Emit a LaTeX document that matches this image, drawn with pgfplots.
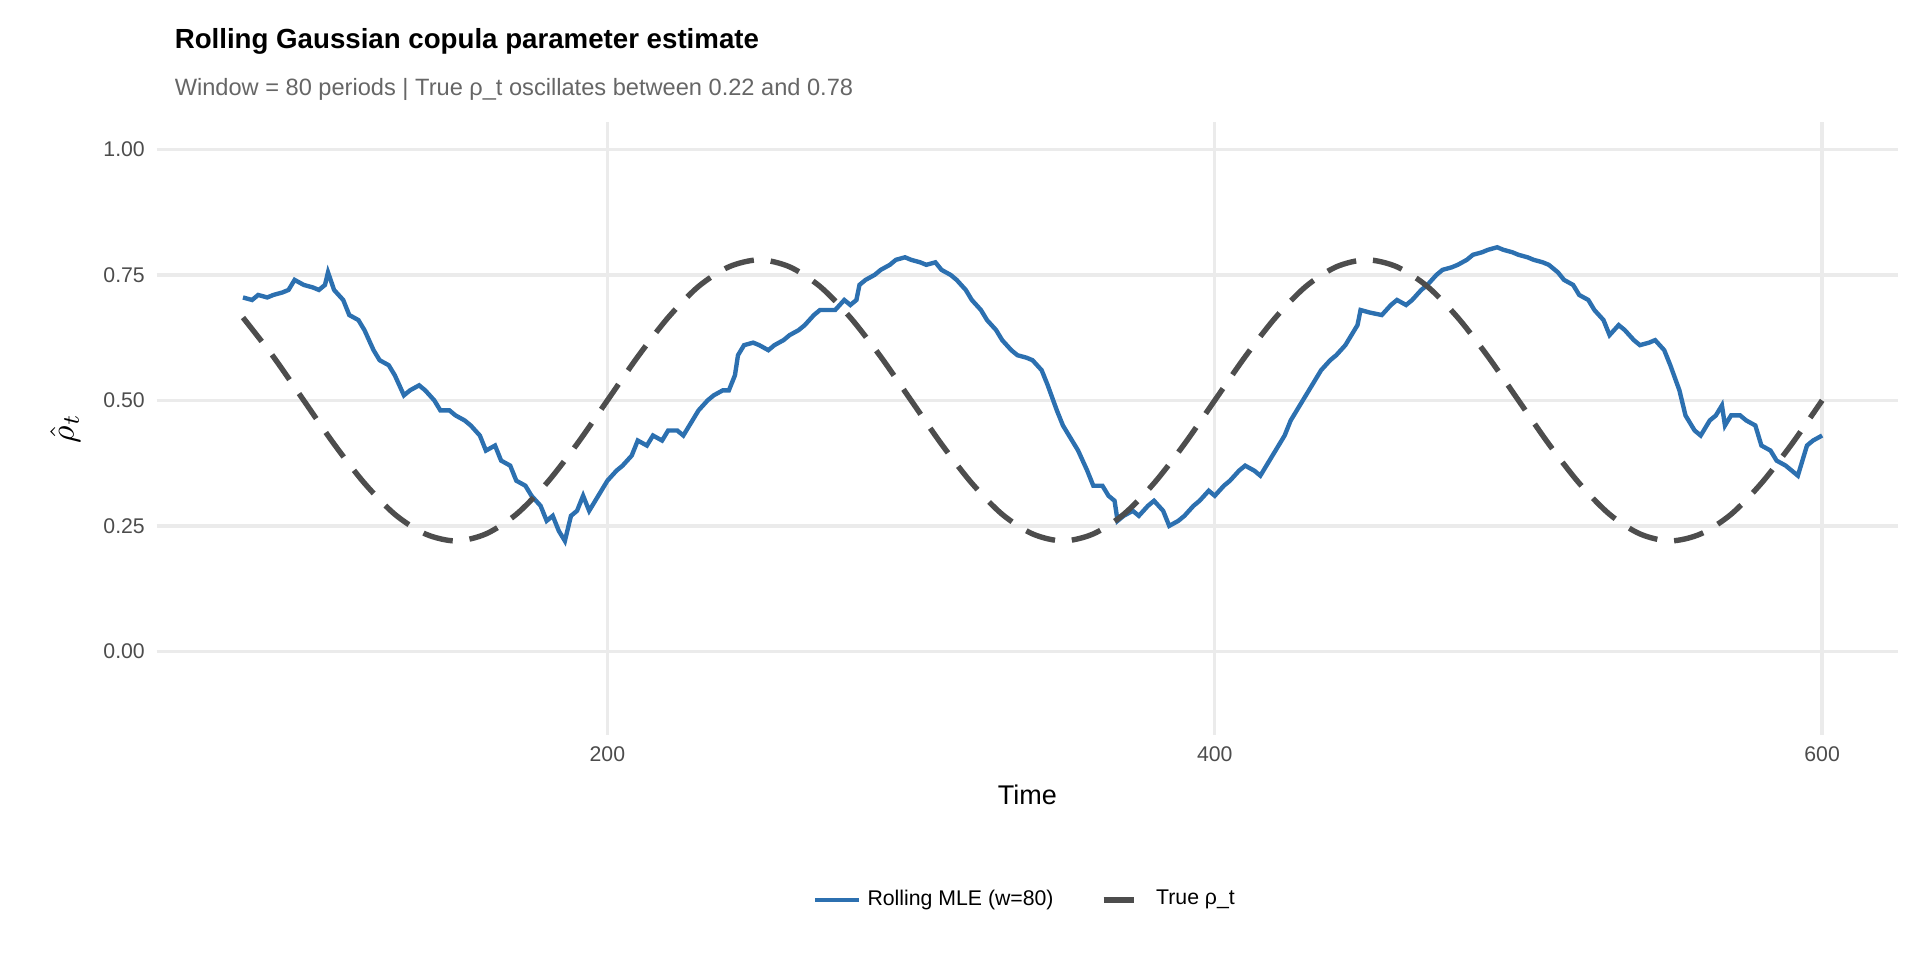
\documentclass[border=0pt]{standalone}
\usepackage{pgfplots}
\pgfplotsset{compat=1.18}
\usepackage{fontspec}
\setmainfont{Liberation Sans}
\definecolor{blu}{RGB}{44,112,176}
\definecolor{dg}{RGB}{77,77,77}
\definecolor{gridc}{RGB}{235,235,235}
\begin{document}
\begin{tikzpicture}[x=0.01276cm,y=0.01276cm]
\begin{axis}[at={(0,0)},anchor=south west,scale only axis,
 width=18.14cm,height=6.38cm,
 xmin=51.6,xmax=625,ymin=-0.166,ymax=1.054,
 axis line style={draw=none},tick style={draw=none},
 xtick={200,400,600},ytick={0,0.25,0.5,0.75,1},
 yticklabels={0.00,0.25,0.50,0.75,1.00},
 grid=major,major grid style={gridc,line width=1pt},
 /pgf/number format/assume math mode=true,
 ticklabel style={font=\fontsize{6.3}{7}\selectfont,text=black!70},
 xlabel={Time},xlabel style={font=\fontsize{8}{9}\selectfont,yshift=0pt},
 ylabel={$\hat{\rho}_t$},ylabel style={font=\fontsize{10}{11}\selectfont},
 legend style={at={(0.5,-0.27)},anchor=center,draw=none,legend columns=2,
   font=\fontsize{6.3}{7}\selectfont,/tikz/every even column/.append style={column sep=12pt}},
 legend image code/.code={\draw[#1] (0cm,0cm) -- (0.45cm,0cm);},
 clip=false]
\addplot[blu,line width=1.3pt] coordinates {
(80,0.705)(83,0.70)(85,0.71)(88,0.705)(90,0.71)(93,0.715)(95,0.72)(97,0.74)(100,0.73)(103,0.725)(105,0.72)(107,0.73)(108,0.755)(110,0.72)(113,0.70)(115,0.67)(118,0.66)(120,0.64)(123,0.60)(125,0.58)(128,0.57)(130,0.55)(133,0.51)(135,0.52)(138,0.53)(140,0.52)(143,0.50)(145,0.48)(148,0.48)(150,0.47)(153,0.46)(155,0.45)(158,0.43)(160,0.40)(163,0.41)(165,0.38)(168,0.37)(170,0.34)(173,0.33)(175,0.31)(178,0.29)(180,0.26)(182,0.27)(184,0.24)(186,0.22)(188,0.27)(190,0.28)(192,0.31)(194,0.28)(196,0.30)(198,0.32)(200,0.34)(203,0.36)(205,0.37)(208,0.39)(210,0.42)(213,0.41)(215,0.43)(218,0.42)(220,0.44)(223,0.44)(225,0.43)(228,0.46)(230,0.48)(233,0.50)(235,0.51)(238,0.52)(240,0.52)(242,0.55)(243,0.59)(245,0.61)(248,0.615)(250,0.61)(253,0.60)(255,0.61)(258,0.62)(260,0.63)(263,0.64)(265,0.65)(268,0.67)(270,0.68)(273,0.68)(275,0.68)(278,0.70)(280,0.69)(282,0.70)(283,0.73)(285,0.74)(288,0.75)(290,0.76)(293,0.77)(295,0.78)(298,0.785)(300,0.78)(303,0.775)(305,0.77)(308,0.775)(310,0.76)(313,0.75)(315,0.74)(318,0.72)(320,0.70)(323,0.68)(325,0.66)(328,0.64)(330,0.62)(333,0.60)(335,0.59)(338,0.585)(340,0.58)(343,0.56)(345,0.53)(348,0.48)(350,0.45)(353,0.42)(355,0.40)(358,0.36)(360,0.33)(363,0.33)(365,0.31)(367,0.30)(368,0.26)(370,0.27)(373,0.28)(375,0.27)(378,0.29)(380,0.30)(383,0.28)(385,0.25)(388,0.26)(390,0.27)(393,0.29)(395,0.30)(398,0.32)(400,0.31)(403,0.33)(405,0.34)(408,0.36)(410,0.37)(413,0.36)(415,0.35)(418,0.38)(420,0.40)(423,0.43)(425,0.46)(428,0.49)(430,0.51)(433,0.54)(435,0.56)(438,0.58)(440,0.59)(443,0.61)(445,0.63)(447,0.65)(448,0.68)(451,0.675)(455,0.67)(458,0.69)(460,0.70)(463,0.69)(465,0.70)(468,0.72)(470,0.73)(473,0.75)(475,0.76)(478,0.765)(480,0.77)(483,0.78)(485,0.79)(488,0.795)(490,0.80)(493,0.805)(495,0.80)(498,0.795)(500,0.79)(503,0.785)(505,0.78)(508,0.775)(510,0.77)(513,0.755)(515,0.74)(518,0.73)(520,0.71)(523,0.70)(525,0.68)(528,0.66)(530,0.63)(533,0.65)(535,0.64)(538,0.62)(540,0.61)(543,0.615)(545,0.62)(548,0.60)(550,0.57)(553,0.52)(555,0.47)(558,0.44)(560,0.43)(563,0.46)(565,0.47)(567,0.49)(568,0.45)(570,0.47)(573,0.47)(575,0.46)(578,0.45)(580,0.41)(583,0.40)(585,0.38)(588,0.37)(590,0.36)(592,0.35)(595,0.41)(597,0.42)(600,0.43)};
\addlegendentry{Rolling MLE (w=80)}
\addplot[dg,line width=1.6pt,dash pattern=on 9pt off 5pt,smooth] coordinates {
(80,0.665)(90,0.587)(100,0.5)(110,0.413)(120,0.335)(130,0.273)(140,0.234)(150,0.22)(160,0.234)(170,0.273)(180,0.335)(190,0.413)(200,0.5)(210,0.587)(220,0.665)(230,0.727)(240,0.766)(250,0.78)(260,0.766)(270,0.727)(280,0.665)(290,0.587)(300,0.5)(310,0.413)(320,0.335)(330,0.273)(340,0.234)(350,0.22)(360,0.234)(370,0.273)(380,0.335)(390,0.413)(400,0.5)(410,0.587)(420,0.665)(430,0.727)(440,0.766)(450,0.78)(460,0.766)(470,0.727)(480,0.665)(490,0.587)(500,0.5)(510,0.413)(520,0.335)(530,0.273)(540,0.234)(550,0.22)(560,0.234)(570,0.273)(580,0.335)(590,0.413)(600,0.5)};
\addlegendentry{True ρ\_t}
\end{axis}
\useasboundingbox (-128,-184) rectangle (1440,600);
\node[anchor=base west,font=\fontsize{8.2}{9}\bfseries] at (5,560) {Rolling Gaussian copula parameter estimate};
\node[anchor=base west,font=\fontsize{7}{8}\selectfont,text=black!60] at (5,522) {Window = 80 periods | True ρ\_t oscillates between 0.22 and 0.78};
\end{tikzpicture}
\end{document}
